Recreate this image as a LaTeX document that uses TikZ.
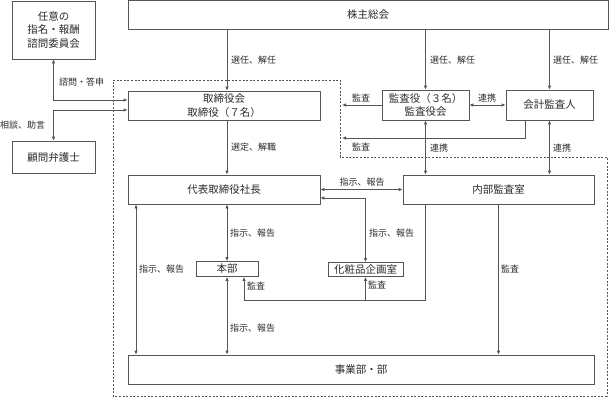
\documentclass[tikz,border=0pt]{standalone}
\usepackage{fontspec}
\setmainfont{Noto Sans CJK JP}
\usetikzlibrary{arrows.meta}
\definecolor{Line}{HTML}{555555}
\definecolor{Ink}{HTML}{2B2B2B}

\begin{document}
\begin{tikzpicture}[x=1pt, y=-1pt,
    box/.style={draw=Line, line width=0.8pt, fill=white, text=Ink, align=center,
        inner sep=0pt, font=\fontsize{10.5}{13.5}\selectfont},
    lbl/.style={text=Ink, inner sep=0pt, font=\fontsize{9}{11}\selectfont},
    link/.style={draw=Line, line width=0.8pt},
    tip/.style={link, -{Latex[length=4pt,width=3.6pt]}},
    both/.style={link, {Latex[length=4pt,width=3.6pt]}-{Latex[length=4pt,width=3.6pt]}},
    zone/.style={draw=Line, line width=0.7pt, dash pattern=on 2pt off 1.6pt}]
\useasboundingbox (0,0) rectangle (610,397);

% 監査の範囲
\draw[zone] (113,80) -- (340,80) -- (340,157) -- (607,157) -- (607,396) -- (113,396) -- cycle;

% boxes
\node[box, minimum width=83pt, minimum height=58pt] (iinkai) at (53.5,30) {任意の\\指名・報酬\\諮問委員会};
\node[box, minimum width=480pt, minimum height=29pt] (kabu) at (368,15) {株主総会};
\node[box, minimum width=83pt, minimum height=32pt] (komon) at (53.5,157) {顧問弁護士};
\node[box, minimum width=192pt, minimum height=29pt] (tori) at (224,105.5) {取締役会\\取締役（７名）};
\node[box, minimum width=87pt, minimum height=30pt] (kansa) at (425.5,105) {監査役（３名）\\監査役会};
\node[box, minimum width=87pt, minimum height=30pt] (kaikei) at (549.5,105) {会計監査人};
\node[box, minimum width=192pt, minimum height=29pt] (shacho) at (224,189.5) {代表取締役社長};
\node[box, minimum width=191pt, minimum height=29pt] (naibu) at (498.5,189.5) {内部監査室};
\node[box, minimum width=62pt, minimum height=15pt] (honbu) at (227,269) {本部};
\node[box, minimum width=75pt, minimum height=14pt] (kesho) at (365.5,269.5) {化粧品企画室};
\node[box, minimum width=466pt, minimum height=29pt] (jigyo) at (361,369.5) {事業部・部};

% columns and rows
\coordinate (colL) at (136,0);
\coordinate (colA) at (244,0);
\coordinate (colK) at (525,0);
\coordinate (edge) at (342,0);
\coordinate (rowA) at (0,100);
\coordinate (rowB) at (0,110);
\coordinate (rowC) at (0,138);
\coordinate (rowD) at (0,198);
\coordinate (rowE) at (0,300);

% 株主総会
\draw[tip] (kabu.south -| honbu) -- (tori.north -| honbu);
\draw[tip] (kabu.south -| kansa) -- (kansa.north);
\draw[tip] (kabu.south -| kaikei) -- (kaikei.north);
\node[lbl, anchor=west] (lSen1) at (231,60) {選任、解任};
\node[lbl, anchor=west] (lSen2) at (430,60) {選任、解任};
\node[lbl, anchor=west] (lSen3) at (553,60) {選任、解任};

% 諮問委員会・顧問弁護士
\draw[both] (iinkai.south) |- (tori.west |- rowA);
\draw[both] (komon.north) |- (tori.west |- rowB);
\node[lbl, anchor=west] (lShimon) at (59,82) {諮問・答申};
\node[lbl, anchor=west] (lSodan) at (0,125) {相談、助言};

% 取締役会 -> 社長
\draw[tip] (tori.south -| honbu) -- (shacho.north -| honbu);
\node[lbl, anchor=west] (lSentei) at (231,147) {選定、解職};

% 監査役・会計監査人
\draw[tip] (kansa.west) -- (kansa.west -| edge);
\draw[tip] (kaikei.south -| colK) |- (edge |- rowC);
\draw[both] (kansa.east) -- (kaikei.west);
\draw[both] (kansa.south) -- (naibu.north -| kansa);
\draw[both] (kaikei.south) -- (naibu.north -| kaikei);
\node[lbl] (lKansa1) at (361,98) {監査};
\node[lbl] (lKansa2) at (361,147) {監査};
\node[lbl] (lRen1) at (487,98) {連携};
\node[lbl, anchor=west] (lRen2) at (430,148) {連携};
\node[lbl, anchor=west] (lRen3) at (553,148) {連携};

% 社長から
\draw[both] (shacho.east) -- (naibu.west);
\draw[both] (shacho.east |- rowD) -| (kesho.north);
\draw[both] (shacho.south -| honbu) -- (honbu.north);
\draw[both] (honbu.south) -- (jigyo.north -| honbu);
\draw[both] (shacho.south -| colL) -- (jigyo.north -| colL);
\node[lbl] (lShiji1) at (362,182) {指示、報告};
\node[lbl, anchor=west] (lShiji2) at (369,233) {指示、報告};
\node[lbl, anchor=west] (lShiji3) at (230,233) {指示、報告};
\node[lbl, anchor=west] (lShiji4) at (139,269) {指示、報告};
\node[lbl, anchor=west] (lShiji5) at (230,328) {指示、報告};

% 内部監査室から
\draw[tip] (naibu.south) -- (jigyo.north -| naibu);
\draw[tip] (naibu.south -| kansa) |- (colA |- rowE) -- (honbu.south -| colA);
\draw[tip] (kesho |- rowE) -- (kesho.south);
\node[lbl, anchor=west] (lKansa3) at (501,269) {監査};
\node[lbl, anchor=west] (lKansa4) at (247,286) {監査};
\node[lbl, anchor=west] (lKansa5) at (368,285) {監査};
\end{tikzpicture}
\end{document}
